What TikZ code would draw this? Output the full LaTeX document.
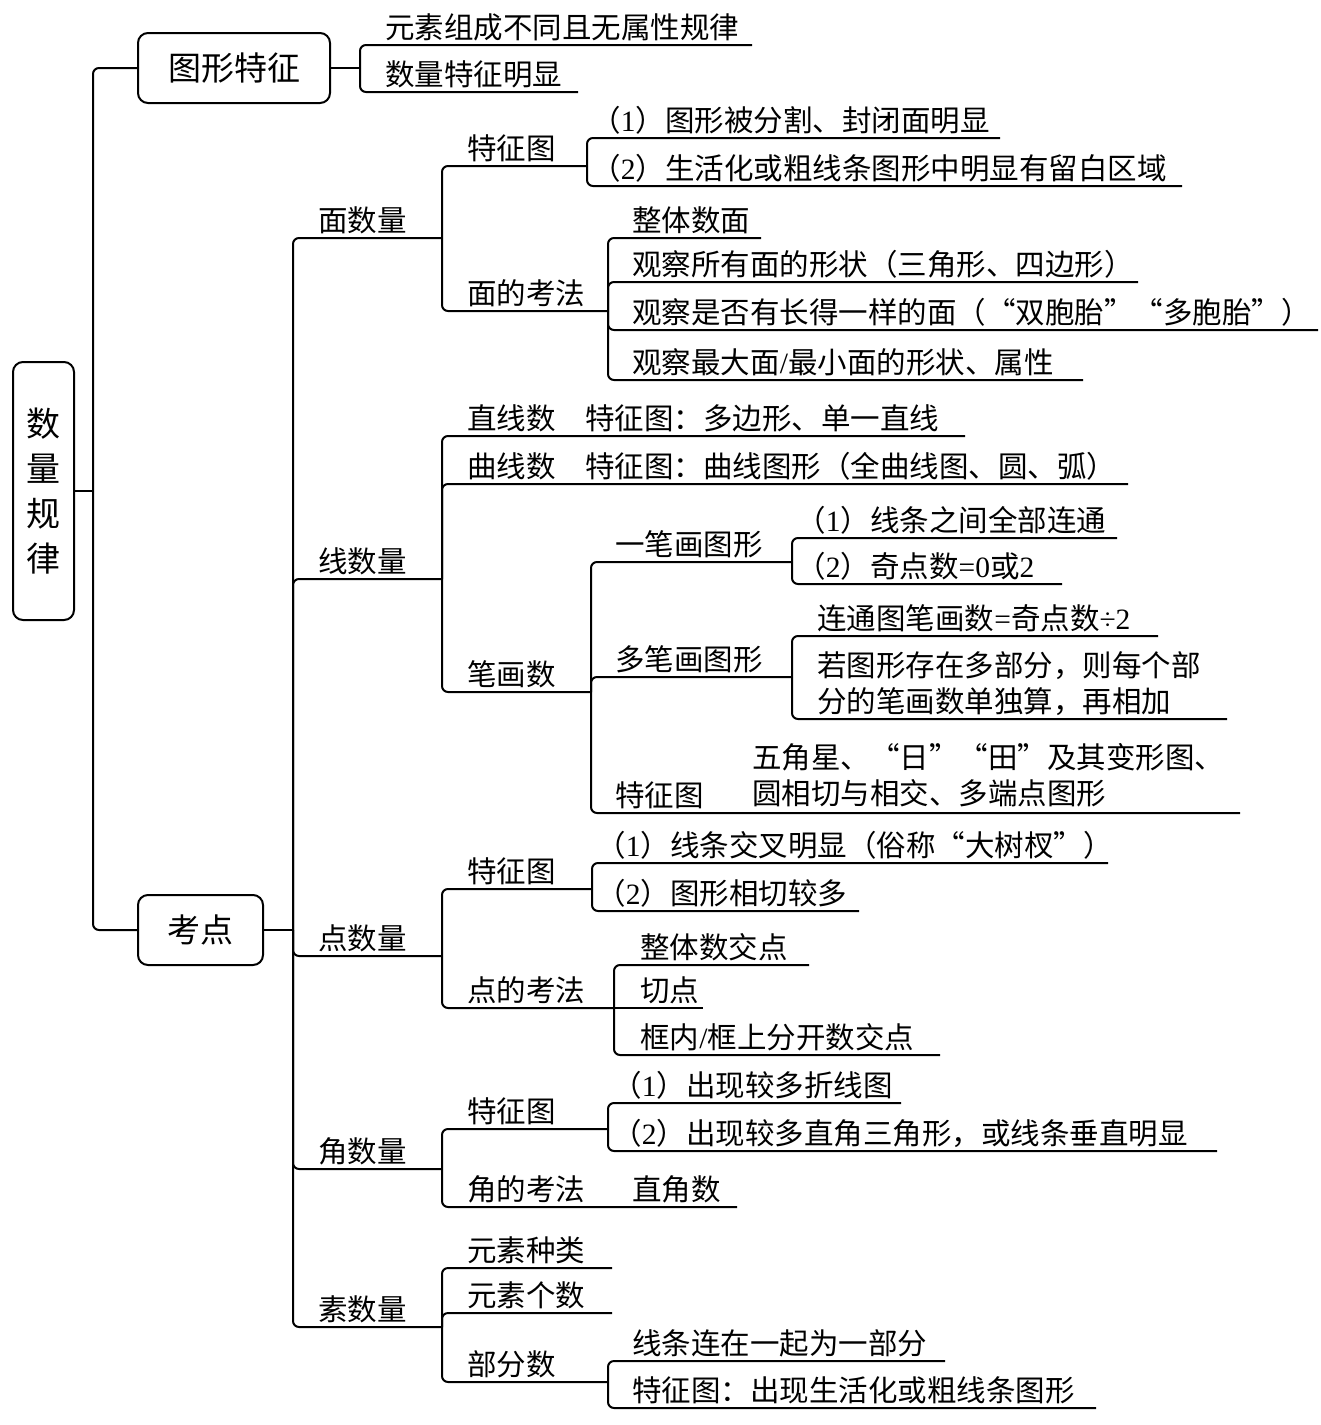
\documentclass[tikz,border=0pt]{standalone}
\usepackage{fontspec}
\setmainfont{Noto Sans CJK SC}
\newfontfamily\latfont{Liberation Serif}
\newcommand\lt[1]{{\latfont #1}}
\newcommand\ql{\makebox[1em][r]{“}}
\newcommand\qr{\makebox[1em][l]{”}}
\tikzset{
  conn/.style={line width=1pt, rounded corners=3pt},
  lbl/.style={anchor=base west, inner sep=0pt, font=\fontsize{14.75pt}{18pt}\selectfont},
  boxn/.style={draw, line width=1pt, rounded corners=5pt, inner sep=0pt, align=center},
}
\begin{document}
\begin{tikzpicture}[x=0.5pt,y=-0.5pt]
\useasboundingbox (0,0) rectangle (1321,1425);
% boxes
\node[boxn, minimum width=30.5pt, minimum height=129pt, font=\fontsize{17pt}{22.5pt}\selectfont] (root) at (43.5,491) {数\\量\\规\\律};
\node[boxn, minimum width=96pt, minimum height=35pt, font=\fontsize{16.5pt}{20pt}\selectfont] (tx) at (234,68) {图形特征};
\node[boxn, minimum width=62.5pt, minimum height=35pt, font=\fontsize{16.5pt}{20pt}\selectfont] (kd) at (200.5,930) {考点};
\coordinate (root-j) at (93,491);
\coordinate (tx-j) at (360,68);
\coordinate (kd-j) at (293,930);
\draw[conn] (root.east) -- (root-j);
\draw[conn] (root-j) |- (tx.west);
\draw[conn] (root-j) |- (kd.west);
\draw[conn] (tx.east) -- (tx-j);
\draw[conn] (kd.east) -- (kd-j);
% 图形特征 children
\coordinate (a1-e) at (752,45);  \node[lbl] (a1) at (385,38) {元素组成不同且无属性规律};
\coordinate (a2-e) at (578,92);  \node[lbl] (a2) at (385,85) {数量特征明显};
\draw[conn] (tx-j) |- (a1-e);
\draw[conn] (tx-j) |- (a2-e);
% 考点 children
\coordinate (m-e) at (442,238);  \node[lbl] (m) at (318,231) {面数量};
\coordinate (x-e) at (442,579);  \node[lbl] (x) at (318,572) {线数量};
\coordinate (d-e) at (442,956);  \node[lbl] (d) at (318,949) {点数量};
\coordinate (j-e) at (442,1169); \node[lbl] (j) at (318,1162) {角数量};
\coordinate (s-e) at (442,1327); \node[lbl] (s) at (318,1320) {素数量};
\foreach \c in {m,x,d,j,s} \draw[conn] (kd-j) |- (\c-e);
% 面数量
\coordinate (m1-e) at (587,166); \node[lbl] (m1) at (467,159) {特征图};
\coordinate (m2-e) at (608,311); \node[lbl] (m2) at (467,304) {面的考法};
\draw[conn] (m-e) |- (m1-e);
\draw[conn] (m-e) |- (m2-e);
\coordinate (m11-e) at (1000,138); \node[lbl] (m11) at (591,131) {（\lt{1}）图形被分割、封闭面明显};
\coordinate (m12-e) at (1182,186); \node[lbl] (m12) at (591,179) {（\lt{2}）生活化或粗线条图形中明显有留白区域};
\draw[conn] (m1-e) |- (m11-e);
\draw[conn] (m1-e) |- (m12-e);
\coordinate (m21-e) at (761,238);  \node[lbl] (m21) at (632,231) {整体数面};
\coordinate (m22-e) at (1138,282); \node[lbl] (m22) at (632,275) {观察所有面的形状（三角形、四边形）};
\coordinate (m23-e) at (1318,330); \node[lbl] (m23) at (632,323) {观察是否有长得一样的面（\ql 双胞胎\qr\ql 多胞胎\qr）};
\coordinate (m24-e) at (1083,380); \node[lbl] (m24) at (632,373) {观察最大面\lt{/}最小面的形状、属性};
\foreach \c in {m21,m22,m23,m24} \draw[conn] (m2-e) |- (\c-e);
% 线数量
\coordinate (x1-e) at (965,436);  \node[lbl] (x1) at (467,429) {直线数\hspace{1em}特征图：多边形、单一直线};
\coordinate (x2-e) at (1128,484); \node[lbl] (x2) at (467,477) {曲线数\hspace{1em}特征图：曲线图形（全曲线图、圆、弧）};
\coordinate (x3-e) at (591,692);  \node[lbl] (x3) at (467,685) {笔画数};
\foreach \c in {x1,x2,x3} \draw[conn] (x-e) |- (\c-e);
\coordinate (x31-e) at (792,562);  \node[lbl] (x31) at (615,555) {一笔画图形};
\coordinate (x32-e) at (792,677);  \node[lbl] (x32) at (615,670) {多笔画图形};
\coordinate (x33-e) at (1240,813); \node[lbl] (x33) at (615,806) {特征图};
\node[lbl] (x33b) at (752,768) {五角星、\ql 日\qr\ql 田\qr 及其变形图、};
\node[lbl] (x33c) at (752,804) {圆相切与相交、多端点图形};
\foreach \c in {x31,x32,x33} \draw[conn] (x3-e) |- (\c-e);
\coordinate (x311-e) at (1117,538); \node[lbl] (x311) at (796,531) {（\lt{1}）线条之间全部连通};
\coordinate (x312-e) at (1062,584); \node[lbl] (x312) at (796,577) {（\lt{2}）奇点数\lt{=0}或\lt{2}};
\draw[conn] (x31-e) |- (x311-e);
\draw[conn] (x31-e) |- (x312-e);
\coordinate (x321-e) at (1158,636); \node[lbl] (x321) at (817,629) {连通图笔画数\lt{=}奇点数\lt{÷2}};
\coordinate (x322-e) at (1227,719); \node[lbl] (x322) at (817,676) {若图形存在多部分，则每个部};
\node[lbl] (x322b) at (817,712) {分的笔画数单独算，再相加};
\draw[conn] (x32-e) |- (x321-e);
\draw[conn] (x32-e) |- (x322-e);
% 点数量
\coordinate (d1-e) at (592,889);  \node[lbl] (d1) at (467,882) {特征图};
\coordinate (d2-e) at (614,1008); \node[lbl] (d2) at (467,1001) {点的考法};
\draw[conn] (d-e) |- (d1-e);
\draw[conn] (d-e) |- (d2-e);
\coordinate (d11-e) at (1108,863); \node[lbl] (d11) at (596,856) {（\lt{1}）线条交叉明显（俗称\ql 大树杈\qr）};
\coordinate (d12-e) at (859,911);  \node[lbl] (d12) at (596,904) {（\lt{2}）图形相切较多};
\draw[conn] (d1-e) |- (d11-e);
\draw[conn] (d1-e) |- (d12-e);
\coordinate (d21-e) at (809,965);  \node[lbl] (d21) at (640,958) {整体数交点};
\coordinate (d22-e) at (703,1008); \node[lbl] (d22) at (640,1001) {切点};
\coordinate (d23-e) at (940,1055); \node[lbl] (d23) at (640,1048) {框内\lt{/}框上分开数交点};
\draw[conn] (d2-e) |- (d21-e);
\draw[conn] (d2-e) -- (d22-e);
\draw[conn] (d2-e) |- (d23-e);
% 角数量
\coordinate (j1-e) at (608,1129); \node[lbl] (j1) at (467,1122) {特征图};
\coordinate (j2-e) at (737,1207); \node[lbl] (j2) at (467,1200) {角的考法};
\node[lbl] (j2b) at (632,1200) {直角数};
\draw[conn] (j-e) |- (j1-e);
\draw[conn] (j-e) |- (j2-e);
\coordinate (j11-e) at (901,1103);  \node[lbl] (j11) at (612,1096) {（\lt{1}）出现较多折线图};
\coordinate (j12-e) at (1217,1151); \node[lbl] (j12) at (612,1144) {（\lt{2}）出现较多直角三角形，或线条垂直明显};
\draw[conn] (j1-e) |- (j11-e);
\draw[conn] (j1-e) |- (j12-e);
% 素数量
\coordinate (s1-e) at (612,1268); \node[lbl] (s1) at (467,1261) {元素种类};
\coordinate (s2-e) at (612,1313); \node[lbl] (s2) at (467,1306) {元素个数};
\coordinate (s3-e) at (608,1382); \node[lbl] (s3) at (467,1375) {部分数};
\foreach \c in {s1,s2,s3} \draw[conn] (s-e) |- (\c-e);
\coordinate (s31-e) at (945,1361);  \node[lbl] (s31) at (632,1354) {线条连在一起为一部分};
\coordinate (s32-e) at (1096,1408); \node[lbl] (s32) at (632,1401) {特征图：出现生活化或粗线条图形};
\draw[conn] (s3-e) |- (s31-e);
\draw[conn] (s3-e) |- (s32-e);
\end{tikzpicture}
\end{document}
